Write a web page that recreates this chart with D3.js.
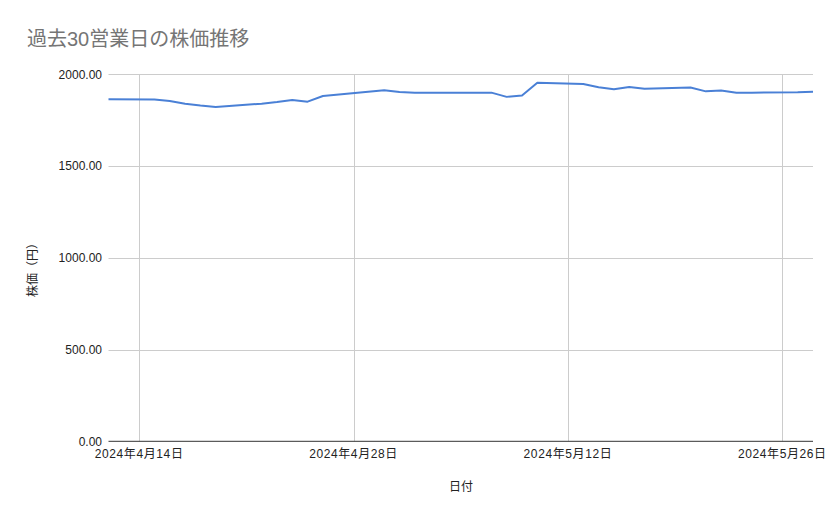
<!DOCTYPE html>
<html>
<head>
<meta charset="utf-8">
<script src="https://cdn.jsdelivr.net/npm/d3@7"></script>
<style>
  body { margin: 0; background: #fff; }
  text { font-family: "Liberation Sans", Arial, "Noto Sans CJK JP", sans-serif; }
</style>
</head>
<body>
<div id="chart"></div>
<script>
// 30 business days (JP holidays skipped)
let dates = [
  '2024-04-12', '2024-04-15', '2024-04-16', '2024-04-17', '2024-04-18', '2024-04-19',
  '2024-04-22', '2024-04-23', '2024-04-24', '2024-04-25', '2024-04-26',
  '2024-04-30', '2024-05-01', '2024-05-02',
  '2024-05-07', '2024-05-08', '2024-05-09', '2024-05-10',
  '2024-05-13', '2024-05-14', '2024-05-15', '2024-05-16', '2024-05-17',
  '2024-05-20', '2024-05-21', '2024-05-22', '2024-05-23', '2024-05-24',
  '2024-05-27', '2024-05-28'
]
let prices = [
  1864, 1863, 1855, 1840, 1830, 1822,
  1840, 1849, 1860, 1851, 1882,
  1913, 1903, 1900,
  1900, 1877, 1885, 1954,
  1947, 1929, 1919, 1931, 1921,
  1928, 1907, 1912, 1900, 1900,
  1902, 1905
]
let yTicks = [0, 500, 1000, 1500, 2000]
let xTicks = ['2024-04-14', '2024-04-28', '2024-05-12', '2024-05-26']

let parse = d3.timeParse('%Y-%m-%d')
let data = dates.map((d, i) => ({ date: parse(d), price: prices[i] }))

let width = 839
let height = 519
let margin = { top: 74.3, left: 108.5, right: 26, bottom: 77.7 }

let svg = d3
  .select('#chart')
  .append('svg')
  .attr('width', width)
  .attr('height', height)

let x = d3
  .scaleTime()
  .domain(d3.extent(data, d => d.date))
  .range([margin.left, width - margin.right])

let y = d3
  .scaleLinear()
  .domain([0, 2000])
  .range([height - margin.bottom, margin.top])

// horizontal gridlines
svg
  .selectAll('.hgrid')
  .data(yTicks.filter(d => d > 0))
  .enter()
  .append('line')
  .attr('x1', margin.left)
  .attr('x2', width - margin.right)
  .attr('y1', d => Math.round(y(d)) + 0.5)
  .attr('y2', d => Math.round(y(d)) + 0.5)
  .attr('stroke', '#cccccc')
  .attr('stroke-width', 1)

// vertical gridlines
svg
  .selectAll('.vgrid')
  .data(xTicks.map(parse))
  .enter()
  .append('line')
  .attr('x1', d => Math.round(x(d)) + 0.5)
  .attr('x2', d => Math.round(x(d)) + 0.5)
  .attr('y1', y(2000))
  .attr('y2', y(0))
  .attr('stroke', '#cccccc')
  .attr('stroke-width', 1)

// y tick labels
svg
  .selectAll('.ylabel')
  .data(yTicks)
  .enter()
  .append('text')
  .text(d => d3.format('.2f')(d))
  .attr('x', 102)
  .attr('y', d => y(d))
  .attr('dy', '0.35em')
  .attr('text-anchor', 'end')
  .attr('font-size', 12)
  .attr('fill', '#222222')

// x tick labels
let fmtJa = d => d3.timeFormat('%Y')(d) + '年' + (d.getMonth() + 1) + '月' + d.getDate() + '日'
svg
  .selectAll('.xlabel')
  .data(xTicks.map(parse))
  .enter()
  .append('text')
  .text(fmtJa)
  .attr('x', d => x(d))
  .attr('y', 458)
  .attr('text-anchor', 'middle')
  .attr('font-size', 12)
  .attr('letter-spacing', 0.6)
  .attr('fill', '#222222')

// price line
let line = d3
  .line()
  .x(d => x(d.date))
  .y(d => y(d.price))

svg
  .append('path')
  .datum(data)
  .attr('d', line)
  .attr('fill', 'none')
  .attr('stroke', '#4a80d6')
  .attr('stroke-width', 2)
  .attr('stroke-linejoin', 'round')

// baseline
svg
  .append('line')
  .attr('x1', margin.left)
  .attr('x2', width - margin.right)
  .attr('y1', y(0))
  .attr('y2', y(0))
  .attr('stroke', '#333333')
  .attr('stroke-width', 1)

// title
svg
  .append('text')
  .text('過去30営業日の株価推移')
  .attr('x', 27)
  .attr('y', 46)
  .attr('font-size', 20)
  .attr('fill', '#757575')

// axis titles
svg
  .append('text')
  .text('日付')
  .attr('x', 461)
  .attr('y', 491)
  .attr('text-anchor', 'middle')
  .attr('font-size', 12)
  .attr('fill', '#222222')

svg
  .append('text')
  .text('株価（円）')
  .attr('transform', 'translate(37,267) rotate(-90)')
  .attr('text-anchor', 'middle')
  .attr('font-size', 12)
  .attr('fill', '#222222')
</script>
</body>
</html>
